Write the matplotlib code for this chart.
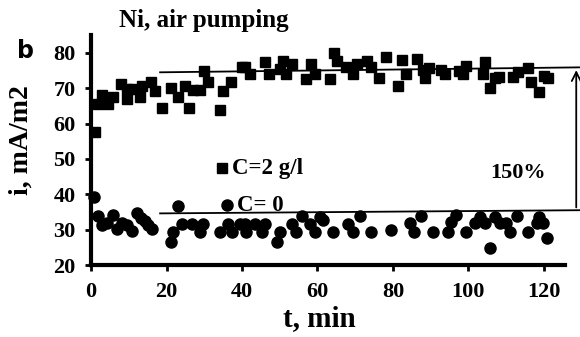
import matplotlib.pyplot as plt
from matplotlib.patches import FancyArrowPatch

# C=2 g/l (squares)
t_c2 = [1.1, 1.8, 2.8, 4.6, 5.9, 7.9, 9.6, 9.5, 11.2, 13.0, 13.6, 15.9, 17.0, 18.9,
        21.2, 23.0, 24.9, 26.0, 26.9, 28.9, 30.0, 31.1, 34.2, 34.9, 37.1, 39.9,
        40.8, 42.1, 46.1, 47.2, 50.1, 50.9, 51.8, 53.2, 57.1, 58.2, 59.3, 63.3,
        64.5, 65.3, 67.5, 69.5, 70.4, 73.2, 74.3, 76.4, 78.3, 81.3, 82.5, 83.4,
        86.5, 88.0, 88.6, 89.6, 92.7, 93.8, 97.5, 98.6, 99.5, 104.5, 103.9, 105.7,
        107.0, 108.0, 111.9, 113.2, 115.7, 116.7, 118.7, 120.1, 121.0]
i_c2 = [57.5, 65.5, 68.2, 65.5, 67.4, 71.2, 67.0, 69.8, 69.8, 67.4, 70.7, 71.8, 69.3, 64.3,
        70.0, 67.4, 70.7, 64.3, 69.5, 69.5, 74.9, 71.8, 63.7, 69.3, 71.8, 76.1,
        76.1, 74.0, 77.5, 74.0, 75.4, 77.7, 74.0, 76.8, 72.6, 76.8, 74.0, 72.6,
        80.1, 77.7, 76.1, 74.0, 76.8, 77.7, 75.9, 73.0, 78.9, 70.6, 78.0, 74.0,
        78.2, 75.1, 72.9, 75.6, 75.1, 74.0, 74.9, 74.0, 76.3, 77.5, 74.0, 70.0,
        72.8, 73.3, 73.2, 74.5, 75.6, 71.8, 68.8, 73.5, 73.0]

# C=0 (circles)
t_c0 = [0.9, 1.9, 2.8, 4.1, 5.9, 6.8, 8.3, 9.5, 10.8, 12.1, 13.2, 14.3, 15.2, 16.1,
        21.2, 21.8, 23.0, 24.0, 26.7, 28.9, 29.7, 34.2, 36.2, 37.3, 39.5,
        40.8, 41.2, 43.4, 45.2, 46.1, 49.2, 50.2, 53.2, 54.3, 55.8, 58.0, 59.3,
        60.7, 61.5, 64.2, 68.2, 69.5, 71.3, 74.3, 79.6,
        84.5, 85.6, 87.4, 90.7, 94.5, 95.5, 96.7, 99.5, 101.7, 103.0, 104.4, 105.7,
        107.0, 108.3, 110.1, 111.0, 112.8, 115.7, 118.1, 118.7, 119.8, 120.9]
i_c0 = [39.2, 33.8, 31.3, 31.9, 34.1, 30.3, 31.9, 31.3, 29.7, 34.6, 33.4, 32.5, 31.3, 30.1,
        26.4, 29.4, 36.6, 31.7, 31.7, 29.4, 31.7, 29.4, 31.7, 29.4, 31.7,
        31.7, 29.4, 31.7, 29.4, 31.7, 26.4, 29.4, 31.7, 29.4, 33.8, 31.7, 29.4,
        33.6, 32.7, 29.4, 31.7, 29.4, 33.8, 29.4, 29.9,
        31.9, 29.4, 33.8, 29.4, 29.4, 32.2, 34.1, 29.4, 31.9, 33.6, 31.9, 24.9,
        33.6, 31.9, 31.9, 29.4, 33.8, 29.4, 31.9, 33.6, 31.9, 27.7]

# trend lines
line_x = [18.3, 129.5]
line_top = [74.5, 75.9]
line_bot = [34.6, 35.5]

serif = 'Liberation Serif'

fig = plt.figure(figsize=(5.8, 3.37), dpi=100)
ax = fig.add_axes([0.157, 0.2136, 0.817, 0.682])

ax.plot(t_c2, i_c2, 's', color='black', markersize=7.4, clip_on=False, zorder=3)
ax.plot(t_c0, i_c0, 'o', color='black', markersize=8, clip_on=False, zorder=3)
ax.plot(line_x, line_top, color='black', lw=1.3, clip_on=False)
ax.plot(line_x, line_bot, color='black', lw=1.3, clip_on=False)

arrow = FancyArrowPatch((128.6, line_bot[1]), (128.6, line_top[1]), arrowstyle='->',
                        mutation_scale=16, lw=1.3, color='black', clip_on=False)
ax.add_patch(arrow)

ax.set_xlim(0, 125.6)
ax.set_ylim(20, 85)
ax.set_xticks([0, 20, 40, 60, 80, 100, 120])
ax.set_yticks([20, 30, 40, 50, 60, 70, 80])

for s in ['top', 'right']:
    ax.spines[s].set_visible(False)
for s in ['left', 'bottom']:
    ax.spines[s].set_linewidth(3)
ax.tick_params(width=2, length=4, direction='out')
ax.tick_params(axis='x', pad=8)
ax.tick_params(axis='y', pad=7)
for lab in ax.get_xticklabels() + ax.get_yticklabels():
    lab.set_fontfamily(serif)
    lab.set_fontweight('bold')
    lab.set_fontsize(16)

ax.set_xlabel('t, min', fontfamily=serif, fontweight='bold', fontsize=21)
ax.xaxis.set_label_coords(0.481, -0.175)
ax.set_ylabel('i, mA/m2', fontfamily=serif, fontweight='bold', fontsize=20)
ax.yaxis.set_label_coords(-0.122, 0.543)

fig.text(0.352, 0.94, 'Ni, air pumping', fontfamily=serif, fontweight='bold',
         fontsize=18, ha='center', va='center')
fig.text(0.03, 0.85, 'b', fontweight='bold', fontsize=17, ha='left', va='center')

# legend-like labels drawn by hand as in the original
ax.plot([34.7], [47.3], 's', color='black', markersize=7.4)
ax.text(37.4, 47.3, 'C=2 g/l', fontfamily=serif, fontweight='bold', fontsize=16.5,
        va='center', ha='left')
ax.plot([36.0], [36.9], 'o', color='black', markersize=8)
ax.text(38.8, 36.9, 'C= 0', fontfamily=serif, fontweight='bold', fontsize=16.5,
        va='center', ha='left')
ax.text(113.1, 45.9, '150%', fontfamily=serif, fontweight='bold', fontsize=16,
        va='center', ha='center')

fig.savefig('out.png', dpi=100)
